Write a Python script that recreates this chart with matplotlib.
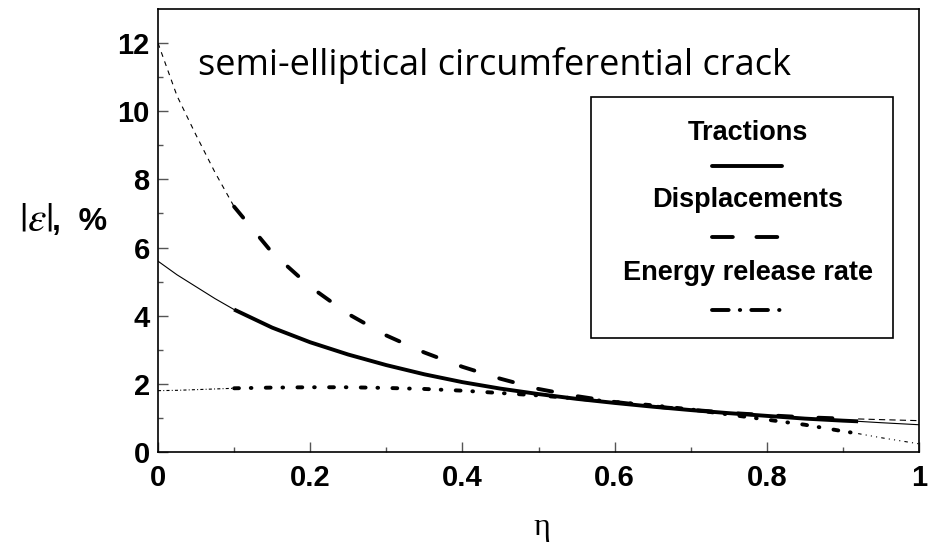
import numpy as np
import matplotlib
matplotlib.use("Agg")
import matplotlib.pyplot as plt
from matplotlib.patches import Rectangle

plt.rcParams['lines.scale_dashes'] = False
plt.rcParams['mathtext.fontset'] = 'stix'

# values
eta = [0, 0.025, 0.05, 0.075, 0.1, 0.15, 0.2, 0.25, 0.3, 0.35, 0.4, 0.45, 0.5,
       0.55, 0.6, 0.65, 0.7, 0.75, 0.8, 0.85, 0.9, 0.92, 0.95, 1.0]
tractions = [5.6, 5.2, 4.85, 4.5, 4.18, 3.65, 3.22, 2.86, 2.55, 2.28, 2.05, 1.86, 1.70,
             1.56, 1.44, 1.33, 1.23, 1.14, 1.06, 0.98, 0.92, 0.90, 0.86, 0.80]
displacements = [12.0, 10.45, 9.3, 8.2, 7.2, 5.85, 4.85, 4.05, 3.42, 2.92, 2.5, 2.15, 1.85,
                 1.64, 1.47, 1.34, 1.24, 1.15, 1.08, 1.02, 0.98, 0.97, 0.95, 0.92]
energy = [1.8, 1.81, 1.83, 1.85, 1.87, 1.89, 1.9, 1.9, 1.88, 1.85, 1.8, 1.73, 1.66,
          1.57, 1.47, 1.37, 1.25, 1.1, 0.95, 0.8, 0.61, 0.54, 0.42, 0.24]
names = ['Tractions', 'Displacements', 'Energy release rate']

eta = np.array(eta)
mid = (eta >= 0.1) & (eta <= 0.92)
left = eta <= 0.1
right = eta >= 0.92

thick = 2.8
thin = 0.8
# line styles: thin ends left / right, thick middle, legend sample
styles = [
    dict(left=dict(ls='-'), right=dict(ls='-'), thick=dict(ls='-'), leg=dict(ls='-')),
    dict(left=dict(dashes=(3.5, 3.5)), right=dict(dashes=(4.5, 3)),
         thick=dict(dashes=(10.2, 18.8)), leg=dict(dashes=(15, 17))),
    dict(left=dict(dashes=(2.2, 1.6, 0.7, 1.6)),
         right=dict(dashes=(2.5, 3, 0.8, 3, 0.8, 3, 0.8, 3)),
         thick=dict(dashes=(3.5, 8.5, 0.5, 10.3)), leg=dict(dashes=(12, 8, 0.3, 8))),
]

fig = plt.figure(figsize=(9.33, 5.46), dpi=100)
ax = fig.add_axes([158/933, 1-452/546, 761/933, 443/546])

for vals, st in zip([tractions, displacements, energy], styles):
    vals = np.array(vals)
    ax.plot(eta[left], vals[left], color='k', lw=thin, **st['left'])
    ax.plot(eta[right], vals[right], color='k', lw=thin, **st['right'])
    ax.plot(eta[mid], vals[mid], color='k', lw=thick, solid_capstyle='butt',
            dash_capstyle='round', **st['thick'])

ax.set_xlim(0, 1)
ax.set_ylim(0, 13)
ax.set_xticks(np.arange(0, 1.01, 0.2))
ax.set_xticklabels(['0', '0.2', '0.4', '0.6', '0.8', '1'])
ax.set_xticks(np.arange(0.1, 1, 0.2), minor=True)
ax.set_yticks(np.arange(0, 13, 2))
ax.set_yticks(np.arange(1, 13, 2), minor=True)
ax.tick_params(which='both', direction='in', color='#555555', width=1,
               top=False, right=False)
ax.tick_params(which='major', length=7, labelsize=21, pad=6)
ax.tick_params(which='minor', length=3.5)
ax.tick_params(axis='x', pad=9)
for lab in ax.get_xticklabels() + ax.get_yticklabels():
    lab.set_fontweight('bold')
    lab.set_family('Liberation Sans')
for sp in ax.spines.values():
    sp.set_linewidth(1.2)

ax.text(0.053, 0.851, 'semi-elliptical circumferential crack', transform=ax.transAxes,
        family='Open Sans', fontsize=26, va='baseline', ha='left')

# y label: |eps|, %
fig.text(19/933, 1-230/546, r'$|\varepsilon|$', fontsize=30,
         ha='left', va='baseline')
fig.text(52/933, 1-230/546, ',  %', family='Liberation Sans', fontweight='bold',
         fontsize=23, ha='left', va='baseline')
fig.text(542/933, 1-527/546, 'η', family='Liberation Serif', fontsize=23,
         ha='center', va='center')

# legend box
ax.add_patch(Rectangle((0.569, 0.257), 0.397, 0.544, transform=ax.transAxes,
                       fill=False, ec='k', lw=1.2, zorder=5))
text_y = [0.704, 0.553, 0.388]
line_y = [0.646, 0.485, 0.321]
for name, st, ty, ly in zip(names, styles, text_y, line_y):
    ax.text(0.775, ty, name, transform=ax.transAxes, ha='center', va='baseline',
            family='Liberation Sans', fontweight='bold', fontsize=19.5)
    ax.plot([0.728, 0.820], [ly, ly], transform=ax.transAxes, color='k', lw=thick,
            solid_capstyle='round', dash_capstyle='round', **st['leg'])

fig.savefig('out.png', dpi=100)
